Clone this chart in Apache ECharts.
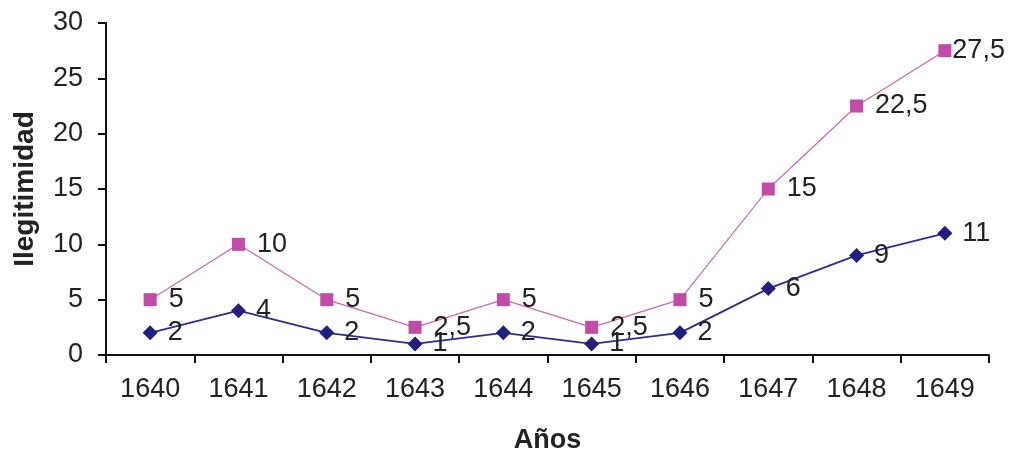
<!DOCTYPE html>
<html><head><meta charset="utf-8">
<script src="https://cdn.jsdelivr.net/npm/echarts@6/dist/echarts.min.js"></script>
<style>html,body{margin:0;padding:0;background:#fff}#c{width:1011px;height:459px}</style>
</head><body><div id="c"></div>
<script>
var categories = ['1640','1641','1642','1643','1644','1645','1646','1647','1648','1649'];
var pinkValues = [5, 10, 5, 2.5, 5, 2.5, 5, 15, 22.5, 27.5];
var blueValues = [2, 4, 2, 1, 2, 1, 2, 6, 9, 11];
var yTicks = [0, 5, 10, 15, 20, 25, 30];

var fmt = function(p){ return String(p.value).replace('.', ','); };
var FONT = 'Liberation Sans';
// last pink label is pushed left against the plot edge, as in the reference
var pinkData = pinkValues.map(function(v, i){
  return i === pinkValues.length - 1 ? { value: v, label: { distance: 1 } } : v;
});
var chart = echarts.init(document.getElementById('c'));
chart.setOption({
  animation: false,
  backgroundColor: '#fff',
  grid: { left: 106, right: 22, top: 23, bottom: 102, containLabel: false },
  xAxis: {
    type: 'category', data: categories, boundaryGap: true,
    name: 'Años', nameLocation: 'middle', nameGap: 72,
    nameTextStyle: { fontFamily: FONT, fontWeight: 'bold', fontSize: 27, color: '#222' },
    axisLine: { lineStyle: { color: '#111', width: 2 } },
    axisTick: { show: true, length: 8, lineStyle: { color: '#111', width: 2 } },
    axisLabel: { fontFamily: FONT, fontSize: 27, color: '#222', margin: 21 },
    splitLine: { show: false }
  },
  yAxis: {
    type: 'value', min: yTicks[0], max: yTicks[yTicks.length-1], interval: 5,
    name: 'Ilegitimidad', nameLocation: 'middle', nameGap: 67, nameRotate: 90,
    nameTextStyle: { fontFamily: FONT, fontWeight: 'bold', fontSize: 28, color: '#222' },
    axisLine: { show: true, lineStyle: { color: '#111', width: 2 } },
    axisTick: { show: true, length: 8, lineStyle: { color: '#111', width: 2 } },
    axisLabel: { fontFamily: FONT, fontSize: 27, color: '#222', margin: 23 },
    splitLine: { show: false }
  },
  series: [
    {
      type: 'line', data: pinkData, symbol: 'rect', symbolSize: 13,
      lineStyle: { color: '#D163C2', width: 1.2 },
      itemStyle: { color: '#C24BAA' },
      label: { show: true, position: 'right', distance: 12, formatter: fmt,
        fontFamily: FONT, fontSize: 27, color: '#222' },
      z: 2
    },
    {
      type: 'line', data: blueValues, symbol: 'diamond', symbolSize: 15,
      lineStyle: { color: '#2B2F94', width: 1.8 },
      itemStyle: { color: '#1E1F7E' },
      label: { show: true, position: 'right', distance: 10, formatter: fmt,
        fontFamily: FONT, fontSize: 27, color: '#222' },
      z: 3
    }
  ]
});
</script></body></html>
